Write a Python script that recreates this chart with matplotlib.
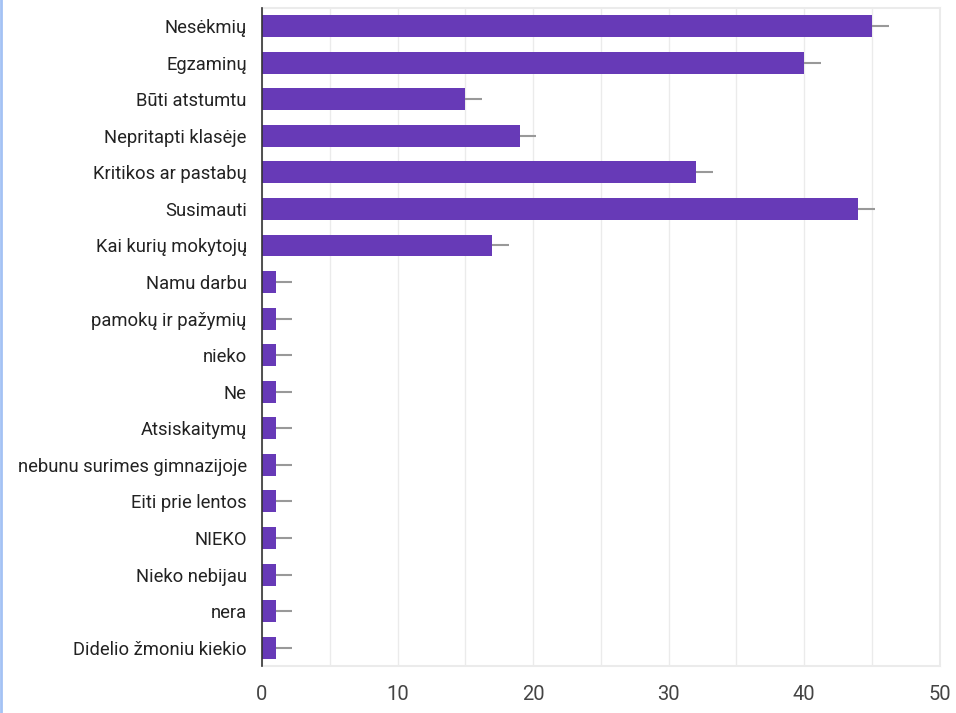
import matplotlib

matplotlib.use("Agg")
import matplotlib.pyplot as plt  # noqa: E402
from matplotlib.lines import Line2D  # noqa: E402
from matplotlib.ticker import MultipleLocator  # noqa: E402

categories = [
    "Nesėkmių",
    "Egzaminų",
    "Būti atstumtu",
    "Nepritapti klasėje",
    "Kritikos ar pastabų",
    "Susimauti",
    "Kai kurių mokytojų",
    "Namu darbu",
    "pamokų ir pažymių",
    "nieko",
    "Ne",
    "Atsiskaitymų",
    "nebunu surimes gimnazijoje",
    "Eiti prie lentos",
    "NIEKO",
    "Nieko nebijau",
    "nera",
    "Didelio žmoniu kiekio",
]
counts = [45, 40, 15, 19, 32, 44, 17, 1, 1, 1, 1, 1, 1, 1, 1, 1, 1, 1]
err = [1.25] * len(counts)

plt.rcParams["font.family"] = ["Roboto", "DejaVu Sans"]

fig = plt.figure(figsize=(9.56, 7.13), dpi=100)
ax = fig.add_axes([0.274, 0.066, 0.709, 0.923])

ypos = list(range(len(categories)))
ax.barh(
    ypos, counts, height=0.6, color="#673ab7", zorder=3,
    xerr=[[0] * len(err), err],
    error_kw=dict(ecolor="#999999", elinewidth=1.5, capsize=0, zorder=4),
)
ax.set_yticks(ypos)
ax.set_yticklabels(categories, fontsize=13.2, color="#222222")
ax.set_ylim(len(categories) - 0.5, -0.5)
ax.set_xlim(0, 50)
ax.xaxis.set_major_locator(MultipleLocator(10))
ax.xaxis.set_minor_locator(MultipleLocator(5))
ax.tick_params(axis="x", labelsize=14.5, labelcolor="#444444", length=0, pad=14)
ax.tick_params(axis="x", which="minor", length=0)
ax.tick_params(axis="y", length=0, pad=11)
ax.grid(axis="x", which="both", color="#ebebeb", linewidth=1, zorder=0)

for side in ("top", "right", "bottom"):
    ax.spines[side].set_color("#ebebeb")
    ax.spines[side].set_linewidth(1.5)
ax.spines["left"].set_color("#333333")
ax.spines["left"].set_linewidth(1.2)
ax.spines["left"].set_zorder(5)

fig.add_artist(Line2D([0.001, 0.001], [0, 1], color="#a4c2f4", linewidth=2,
                      transform=fig.transFigure))

fig.savefig("out.png", dpi=100)
plt.close(fig)
